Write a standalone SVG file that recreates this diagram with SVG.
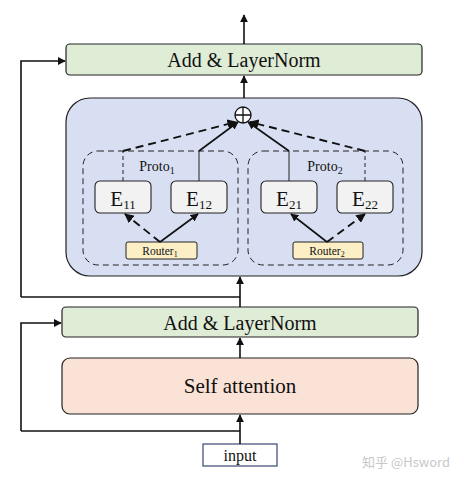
<svg xmlns="http://www.w3.org/2000/svg" width="464" height="482" viewBox="0 0 464 482">
<style>
.t{font-family:"Liberation Serif","DejaVu Serif",serif;fill:#111;text-anchor:middle}
.ln{fill:#dfecd6;stroke:#222;stroke-width:1.2}
.ex{fill:#f2f2f3;stroke:#222;stroke-width:1.1}
.rt{fill:#fcefc6;stroke:#222;stroke-width:1}
.pr{fill:none;stroke:#222;stroke-width:1;stroke-dasharray:6,4}
.c{fill:none;stroke:#111;stroke-width:1.6}
.cd{fill:none;stroke:#111;stroke-width:1.9;stroke-dasharray:8,5}
.thin{fill:none;stroke:#222;stroke-width:1}
.thind{fill:none;stroke:#222;stroke-width:1;stroke-dasharray:4,3}
</style>
<defs>
<marker id="ah" viewBox="0 0 10 10" refX="9" refY="5" markerWidth="5" markerHeight="5" orient="auto-start-reverse">
<path d="M0,0 L10,5 L0,10 z" fill="#111"/>
</marker>
</defs>
<rect width="464" height="482" fill="#fff"/>
<g id="add-top">
<rect class="ln" x="66" y="44" width="356" height="31" rx="4"/>
<text class="t" x="244" y="67" font-size="20">Add &amp; LayerNorm</text>
</g>
<g id="moe">
<rect x="66" y="98" width="356" height="178" rx="24" fill="#d9dff3" stroke="#222" stroke-width="1.2"/>
</g>
<g id="oplus">
<circle cx="243" cy="115" r="8" fill="#fff" stroke="#111" stroke-width="1.3"/>
<path d="M235,115 H251 M243,107 V123" stroke="#111" stroke-width="1.3"/>
</g>
<g id="proto1">
<rect class="pr" x="83" y="151" width="155" height="114" rx="15"/>
<text class="t" x="157" y="171" font-size="14">Proto<tspan font-size="10" dy="3">1</tspan></text>
</g>
<g id="proto2">
<rect class="pr" x="248" y="151" width="155" height="114" rx="15"/>
<text class="t" x="325" y="171" font-size="14">Proto<tspan font-size="10" dy="3">2</tspan></text>
</g>
<g id="E11">
<rect class="ex" x="95" y="181" width="56" height="32" rx="5"/>
<text class="t" x="123" y="206" font-size="21">E<tspan font-size="13" dy="3">11</tspan></text>
</g>
<g id="E12">
<rect class="ex" x="171" y="181" width="56" height="32" rx="5"/>
<text class="t" x="199" y="206" font-size="21">E<tspan font-size="13" dy="3">12</tspan></text>
</g>
<g id="E21">
<rect class="ex" x="261" y="181" width="56" height="32" rx="5"/>
<text class="t" x="289" y="206" font-size="21">E<tspan font-size="13" dy="3">21</tspan></text>
</g>
<g id="E22">
<rect class="ex" x="337" y="181" width="56" height="32" rx="5"/>
<text class="t" x="365" y="206" font-size="21">E<tspan font-size="13" dy="3">22</tspan></text>
</g>
<g id="router1">
<rect class="rt" x="126" y="242" width="71" height="17" rx="2"/>
<text class="t" x="160" y="255" font-size="11.5">Router<tspan font-size="8" dy="2">1</tspan></text>
</g>
<g id="router2">
<rect class="rt" x="293" y="242" width="70" height="17" rx="2"/>
<text class="t" x="327" y="255" font-size="11.5">Router<tspan font-size="8" dy="2">2</tspan></text>
</g>
<g id="add-bottom">
<rect class="ln" x="62" y="307" width="356" height="30" rx="4"/>
<text class="t" x="240" y="330" font-size="20">Add &amp; LayerNorm</text>
</g>
<g id="self-attention">
<rect x="62" y="358" width="356" height="56" rx="8" fill="#fbe2d6" stroke="#222" stroke-width="1.2"/>
<text class="t" x="240" y="393" font-size="21">Self attention</text>
</g>
<g id="input">
<rect x="203" y="444" width="74" height="22" fill="#fff" stroke="#3a4670" stroke-width="1.2"/>
<text class="t" x="240" y="461" font-size="16">input</text>
</g>
<g id="connectors">
<path class="c" d="M244,44 V15" marker-end="url(#ah)"/>
<path class="c" d="M244,98 V76" marker-end="url(#ah)"/>
<path class="c" d="M21,297 V61 H65" marker-end="url(#ah)"/>
<path class="c" d="M240,297 H21"/>
<path class="c" d="M240,307 V277" marker-end="url(#ah)"/>
<path class="c" d="M240,358 V338" marker-end="url(#ah)"/>
<path class="c" d="M240,444 V415" marker-end="url(#ah)"/>
<path class="c" d="M21,431 V323 H61" marker-end="url(#ah)"/>
<path class="c" d="M240,431 H21"/>
<path class="thind" d="M123,181 V151"/>
<path class="cd" d="M123,151 L236,122" marker-end="url(#ah)"/>
<path class="thin" d="M199,181 V151"/>
<path class="c" d="M199,151 L238,122" marker-end="url(#ah)"/>
<path class="thin" d="M289,181 V151"/>
<path class="c" d="M289,151 L248,122" marker-end="url(#ah)"/>
<path class="thind" d="M365,181 V151"/>
<path class="cd" d="M365,151 L250,122" marker-end="url(#ah)"/>
<path class="cd" d="M160,242 L125,214" marker-end="url(#ah)"/>
<path class="c" d="M160,242 L198,214" marker-end="url(#ah)"/>
<path class="c" d="M327,242 L291,214" marker-end="url(#ah)"/>
<path class="cd" d="M327,242 L365,214" marker-end="url(#ah)"/>
</g>
<text x="406" y="467" font-family="'Noto Sans CJK SC','Liberation Sans',sans-serif" font-size="13" fill="#c8c8c8" text-anchor="middle">知乎 @Hsword</text>
</svg>
